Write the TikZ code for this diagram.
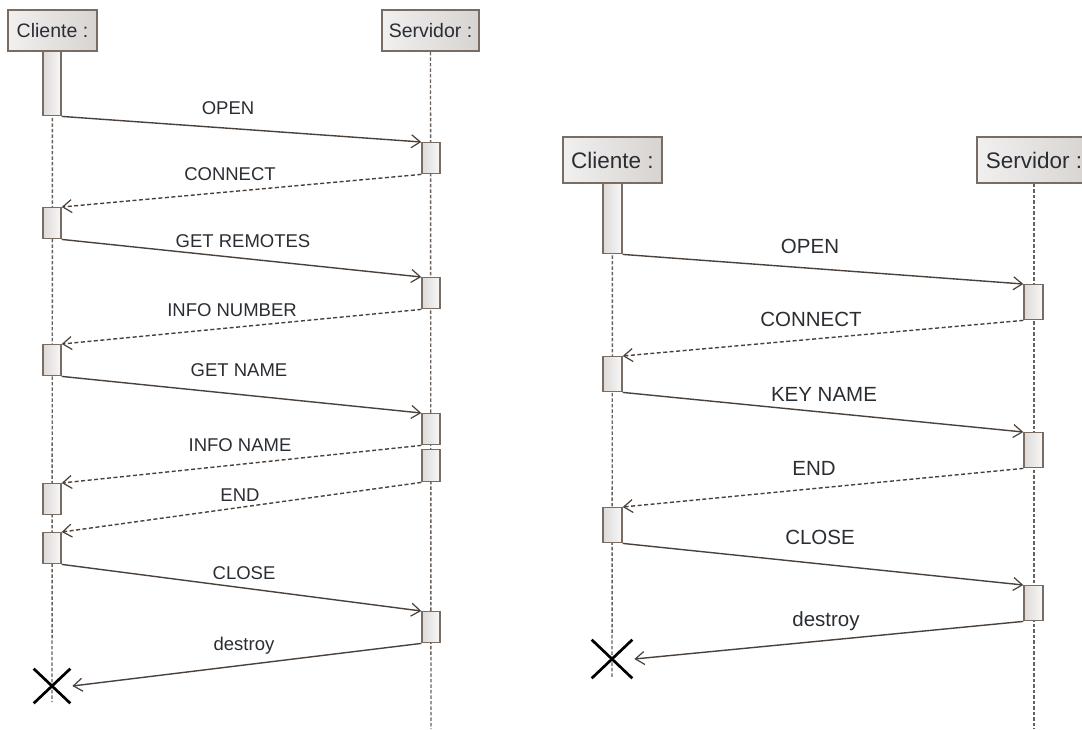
\documentclass[tikz,border=0pt]{standalone}
\usepackage{fontspec}
\setmainfont{Liberation Sans}
\usetikzlibrary{arrows.meta,shapes.misc}
\definecolor{bord}{HTML}{786C63}
\definecolor{arr}{HTML}{4A413B}
\definecolor{lifec}{HTML}{6A605A}
\definecolor{txt}{HTML}{2A2E33}
\begin{document}
\begin{tikzpicture}[x=1pt,y=-1pt,
  head/.style={draw=bord,line width=1.5pt,left color=white!90!bord,right color=white!70!bord,inner sep=0pt,text=txt},
  bar/.style={draw=bord,line width=1.4pt,left color=white!75!bord,right color=white!95!bord,inner sep=0pt},
  lifeline/.style={draw=lifec,line width=1.4pt,dash pattern=on 3.5pt off 2pt},
  msg/.style={draw=arr,line width=1.4pt,-{Straight Barb[length=9pt,width=13pt,line width=1.2pt]}},
  ret/.style={msg,dash pattern=on 4pt off 2.5pt},
  lbl/.style={text=txt,inner sep=0pt},
  killx/.style={cross out,draw=black,line width=2.7pt,inner sep=0pt}]
\useasboundingbox (0,0) rectangle (1082,729);
\clip (0,0) rectangle (1082,729);
\fill[white] (0,0) rectangle (1082,729);

% ================= LEFT DIAGRAM =================
\begin{scope}[font=\fontsize{18.5}{20}\selectfont]
\coordinate (lcend) at (52,702);
\coordinate (lsend) at (431,729);
\node[head,minimum width=89pt,minimum height=41pt,font=\fontsize{19.5}{21}\selectfont] (lc) at (52.5,30.5) {Cliente :};
\node[head,minimum width=97pt,minimum height=41pt,font=\fontsize{19.5}{21}\selectfont] (ls) at (430.5,30.5) {Servidor :};
\draw[lifeline] (lc.south) -- (lcend);
\draw[lifeline] (ls.south) -- (lsend);

\node[bar,anchor=north,minimum width=18pt,minimum height=64pt] (lc0) at (52,51) {};
\node[bar,anchor=north,minimum width=18pt,minimum height=31pt] (lc1) at (52,207) {};
\node[bar,anchor=north,minimum width=18pt,minimum height=31pt] (lc2) at (52,344) {};
\node[bar,anchor=north,minimum width=18pt,minimum height=31pt] (lc3) at (52,483) {};
\node[bar,anchor=north,minimum width=18pt,minimum height=31pt] (lc4) at (52,532) {};

\node[bar,anchor=north,minimum width=18pt,minimum height=31pt] (ls1) at (431,142) {};
\node[bar,anchor=north,minimum width=18pt,minimum height=31pt] (ls2) at (431,277) {};
\node[bar,anchor=north,minimum width=18pt,minimum height=31pt] (ls3) at (431,413) {};
\node[bar,anchor=north,minimum width=18pt,minimum height=32pt] (ls4) at (431,449) {};
\node[bar,anchor=north,minimum width=18pt,minimum height=31pt] (ls5) at (431,611) {};

\node[killx,minimum width=34pt,minimum height=32pt] (lx) at (52,686) {};

\draw[msg] (lc0.south east) -- (ls1.north west);
\draw[ret] (ls1.south west) -- (lc1.north east);
\draw[msg] (lc1.south east) -- (ls2.north west);
\draw[ret] (ls2.south west) -- (lc2.north east);
\draw[msg] (lc2.south east) -- (ls3.north west);
\draw[ret] (ls3.south west) -- (lc3.north east);
\draw[ret] (ls4.south west) -- (lc4.north east);
\draw[msg] (lc4.south east) -- (ls5.north west);
\draw[msg] (ls5.south west) -- ([xshift=2pt]lx.east);

\node[lbl] (l1) at (228,108) {OPEN};
\node[lbl] (l2) at (230,174) {CONNECT};
\node[lbl] (l3) at (243,241) {GET REMOTES};
\node[lbl] (l4) at (232,310) {INFO NUMBER};
\node[lbl] (l5) at (239,370) {GET NAME};
\node[lbl] (l6) at (240,445) {INFO NAME};
\node[lbl] (l7) at (240,495) {END};
\node[lbl] (l8) at (244,573) {CLOSE};
\node[lbl] (l9) at (244,646) {destroy};
\end{scope}

% ================= RIGHT DIAGRAM =================
\begin{scope}[font=\fontsize{20.5}{22}\selectfont]
\coordinate (rcend) at (612,678);
\coordinate (rsend) at (1034,729);
\node[head,minimum width=99pt,minimum height=46pt,font=\fontsize{22.5}{24}\selectfont] (rc) at (612.5,160) {Cliente :};
\node[head,minimum width=114pt,minimum height=46pt,font=\fontsize{22.5}{24}\selectfont] (rs) at (1034,160) {Servidor :};
\draw[lifeline] (rc.south) -- (rcend);
\draw[lifeline] (rs.south) -- (rsend);

\node[bar,anchor=north,minimum width=19pt,minimum height=70pt] (rc0) at (612.5,183) {};
\node[bar,anchor=north,minimum width=19pt,minimum height=35pt] (rc1) at (612.5,356) {};
\node[bar,anchor=north,minimum width=19pt,minimum height=35pt] (rc2) at (612.5,507) {};

\node[bar,anchor=north,minimum width=19pt,minimum height=35pt] (rs1) at (1033.5,284) {};
\node[bar,anchor=north,minimum width=19pt,minimum height=35pt] (rs2) at (1033.5,432) {};
\node[bar,anchor=north,minimum width=19pt,minimum height=35pt] (rs3) at (1033.5,585) {};

\node[killx,minimum width=38pt,minimum height=36pt] (rx) at (612,659) {};

\draw[msg] (rc0.south east) -- (rs1.north west);
\draw[ret] (rs1.south west) -- (rc1.north east);
\draw[msg] (rc1.south east) -- (rs2.north west);
\draw[ret] (rs2.south west) -- (rc2.north east);
\draw[msg] (rc2.south east) -- (rs3.north west);
\draw[msg] (rs3.south west) -- ([xshift=2pt]rx.east);

\node[lbl] (r1) at (810,246) {OPEN};
\node[lbl] (r2) at (811,319) {CONNECT};
\node[lbl] (r3) at (824,394) {KEY NAME};
\node[lbl] (r4) at (814,468) {END};
\node[lbl] (r5) at (820,537) {CLOSE};
\node[lbl] (r6) at (826,621) {destroy};
\end{scope}
\end{tikzpicture}
\end{document}
